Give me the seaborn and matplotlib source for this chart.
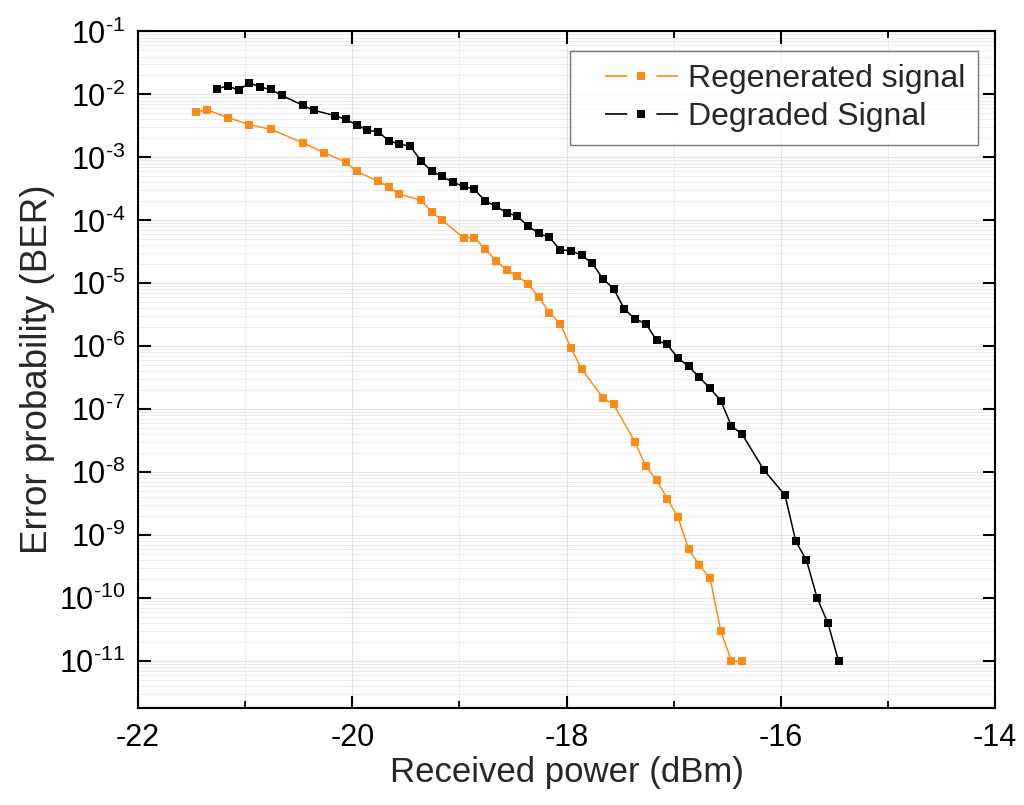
import numpy as np
import pandas as pd
import matplotlib
matplotlib.use("Agg")
import matplotlib.pyplot as plt
import matplotlib.ticker as mticker
from matplotlib.lines import Line2D
from matplotlib.legend_handler import HandlerLine2D
import seaborn as sns

# data
regen_power = [-21.46, -21.36, -21.16, -20.96, -20.76, -20.46, -20.26, -20.06, -19.96, -19.76,
               -19.66, -19.56, -19.36, -19.26, -19.16, -18.96, -18.86, -18.76, -18.66, -18.56,
               -18.46, -18.36, -18.26, -18.16, -18.06, -17.96, -17.86, -17.66, -17.56, -17.36,
               -17.26, -17.16, -17.06, -16.96, -16.86, -16.76, -16.66, -16.56, -16.46, -16.36]
regen_ber = [5.2e-3, 5.7e-3, 4.3e-3, 3.3e-3, 2.8e-3, 1.70e-3, 1.18e-3, 8.4e-4, 6.0e-4, 4.2e-4,
             3.4e-4, 2.6e-4, 2.1e-4, 1.36e-4, 1.0e-4, 5.3e-5, 5.3e-5, 3.5e-5, 2.3e-5, 1.64e-5,
             1.31e-5, 9.7e-6, 6.1e-6, 3.4e-6, 2.3e-6, 9.5e-7, 4.4e-7, 1.52e-7, 1.19e-7, 3.0e-8,
             1.24e-8, 7.5e-9, 3.8e-9, 1.94e-9, 6.0e-10, 3.3e-10, 2.1e-10, 3.0e-11, 1.0e-11, 1.0e-11]

degr_power = [-21.26, -21.16, -21.06, -20.96, -20.86, -20.76, -20.66, -20.46, -20.36, -20.16,
              -20.06, -19.96, -19.86, -19.76, -19.66, -19.56, -19.46, -19.36, -19.26, -19.16,
              -19.06, -18.96, -18.86, -18.76, -18.66, -18.56, -18.46, -18.36, -18.26, -18.16,
              -18.06, -17.96, -17.86, -17.76, -17.66, -17.56, -17.46, -17.36, -17.26, -17.16,
              -17.06, -16.96, -16.86, -16.76, -16.66, -16.56, -16.46, -16.36, -16.16, -15.96,
              -15.86, -15.76, -15.66, -15.56, -15.46]
degr_ber = [1.24e-2, 1.36e-2, 1.17e-2, 1.53e-2, 1.31e-2, 1.20e-2, 9.7e-3, 6.7e-3, 5.6e-3, 4.6e-3,
            4.0e-3, 3.3e-3, 2.7e-3, 2.55e-3, 1.85e-3, 1.62e-3, 1.51e-3, 8.9e-4, 6.0e-4, 5.0e-4,
            4.0e-4, 3.5e-4, 3.1e-4, 2.04e-4, 1.67e-4, 1.33e-4, 1.16e-4, 8.2e-5, 6.2e-5, 5.4e-5,
            3.4e-5, 3.3e-5, 2.8e-5, 2.07e-5, 1.18e-5, 8.2e-6, 3.9e-6, 2.7e-6, 2.3e-6, 1.25e-6,
            1.07e-6, 6.5e-7, 4.8e-7, 3.2e-7, 2.16e-7, 1.36e-7, 5.4e-8, 4.0e-8, 1.1e-8, 4.3e-9,
            8.0e-10, 4.0e-10, 1.0e-10, 4.0e-11, 1.0e-11]

labels = ["Regenerated signal", "Degraded Signal"]
colors = ["#ff8a14", "#000000"]
y_exponents = list(range(-11, 0))

regen = pd.DataFrame({"power": regen_power, "ber": regen_ber})
degr = pd.DataFrame({"power": degr_power, "ber": degr_ber})

sns.set_style("white")
plt.rcParams["font.family"] = ["Liberation Sans", "DejaVu Sans"]
plt.rcParams["mathtext.fontset"] = "custom"
plt.rcParams["mathtext.rm"] = "Liberation Sans"
plt.rcParams["axes.unicode_minus"] = False
plt.rcParams["lines.scale_dashes"] = False

fig = plt.figure(figsize=(10.24, 8.05), dpi=100)
ax = fig.add_axes([0.1348, 0.1205, 0.8369, 0.8404])

for df, c in zip([regen, degr], colors):
    sns.lineplot(data=df, x="power", y="ber", ax=ax, color=c, linewidth=1.1,
                 marker="s", markersize=5.8, markeredgewidth=0, zorder=3)

ax.set_yscale("log")
ax.set_xlim(-22, -14)
ax.set_ylim(1.8e-12, 1e-1)

ax.xaxis.set_major_locator(mticker.MultipleLocator(2))
ax.xaxis.set_minor_locator(mticker.MultipleLocator(1))
ax.xaxis.set_major_formatter(mticker.FormatStrFormatter("%d"))
ax.set_yticks([10.0 ** e for e in y_exponents])
ax.set_yticklabels([r"$\mathregular{10^{\text{%d}}}$" % e for e in y_exponents])
ax.yaxis.set_minor_locator(mticker.LogLocator(base=10, subs=np.arange(2, 10), numticks=20))
ax.yaxis.set_minor_formatter(mticker.NullFormatter())

ax.grid(True, which="major", color="#e4e4e4", linewidth=0.8)
ax.grid(True, which="minor", color="#ececec", linewidth=0.7)
ax.set_axisbelow(True)
# keep the horizontal grid from painting over the x tick marks
ax.yaxis.set_zorder(0.4)
ax.xaxis.set_zorder(0.6)

for s in ax.spines.values():
    s.set_linewidth(1.5)
    s.set_color("black")

ax.xaxis.set_ticks_position("both")
ax.yaxis.set_ticks_position("both")
ax.tick_params(axis="both", which="major", direction="in", length=9, width=1.5,
               top=True, right=True, labelsize=22, colors="black",
               labeltop=False, labelright=False)
ax.tick_params(axis="x", which="major", pad=11)
ax.tick_params(axis="y", which="major", pad=9)
ax.tick_params(axis="x", which="minor", direction="in", length=5, width=1.3,
               top=True, bottom=True, colors="black")
ax.tick_params(axis="y", which="minor", length=0)

ax.set_xlabel("Received power (dBm)", fontsize=25, labelpad=2)
ax.set_ylabel("Error probability (BER)", fontsize=26.5, labelpad=3)

handles = [Line2D([], [], color=c, linewidth=1.2, linestyle=(0, (16, 21)),
                  marker="s", markersize=5.8, markeredgewidth=0) for c in colors]
leg = ax.legend(handles, labels, loc="upper right", bbox_to_anchor=(0.98, 0.971),
                fontsize=23, frameon=True, fancybox=False, handlelength=3.0,
                handletextpad=0.3, borderpad=0.4, labelspacing=0.25, borderaxespad=0,
                handler_map={Line2D: HandlerLine2D(xpad=0.7)})
leg.get_frame().set_edgecolor("#555555")
leg.get_frame().set_linewidth(1.0)

fig.savefig("out.png", dpi=100)
